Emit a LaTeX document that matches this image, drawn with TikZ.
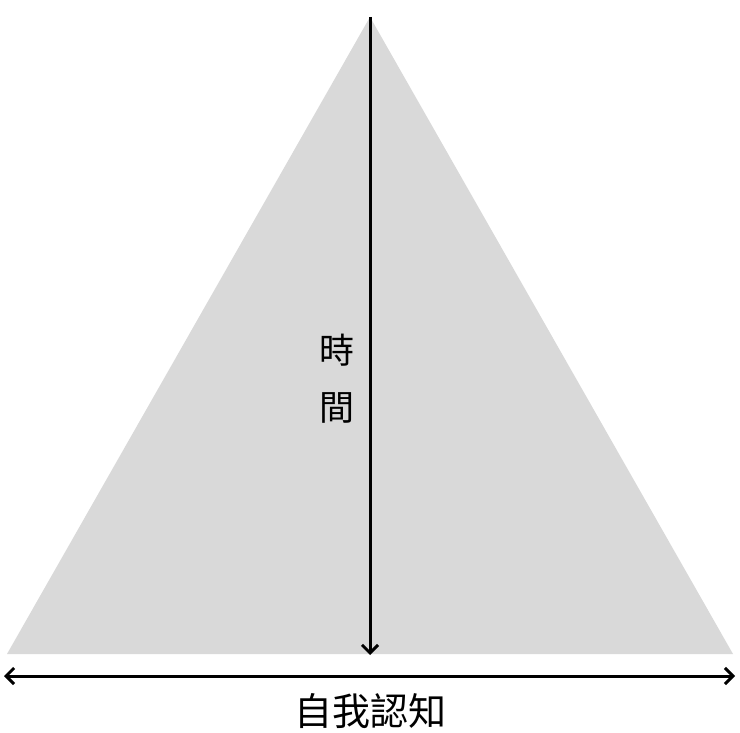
\documentclass[tikz,border=0pt]{standalone}
\usepackage{fontspec}
\newfontfamily\cjk{Noto Sans CJK TC}
\usetikzlibrary{arrows.meta}
\definecolor{trigray}{HTML}{D9D9D9}
\tikzset{
  tip/.tip={Straight Barb[length=8pt,width=16pt,line width=3pt]},
  axis/.style={line width=3pt, -tip},
  biaxis/.style={line width=3pt, tip-tip},
  lbl/.style={font=\cjk\fontsize{35}{57}\selectfont, inner sep=0pt, align=center}
}
\begin{document}
\begin{tikzpicture}[x=1pt,y=-1pt]
\useasboundingbox (0,0) rectangle (740,733);
\fill[white] (0,0) rectangle (740,733);
\coordinate (apex) at (370,17);
\coordinate (bl) at (7,654);
\coordinate (br) at (733,654);
\fill[trigray] (apex) -- (br) -- (bl) -- cycle;
\coordinate (vbot) at (370,655);
\draw[axis] (apex) -- (vbot);
\coordinate (hl) at (4,676);
\coordinate (hr) at (735,676);
\draw[biaxis] (hl) -- (hr);
\node[lbl] (time) at (337,379) {時\\間};
\node[lbl, font=\cjk\fontsize{38}{46}\selectfont] (self) at (370,711) {自我認知};
\end{tikzpicture}
\end{document}
